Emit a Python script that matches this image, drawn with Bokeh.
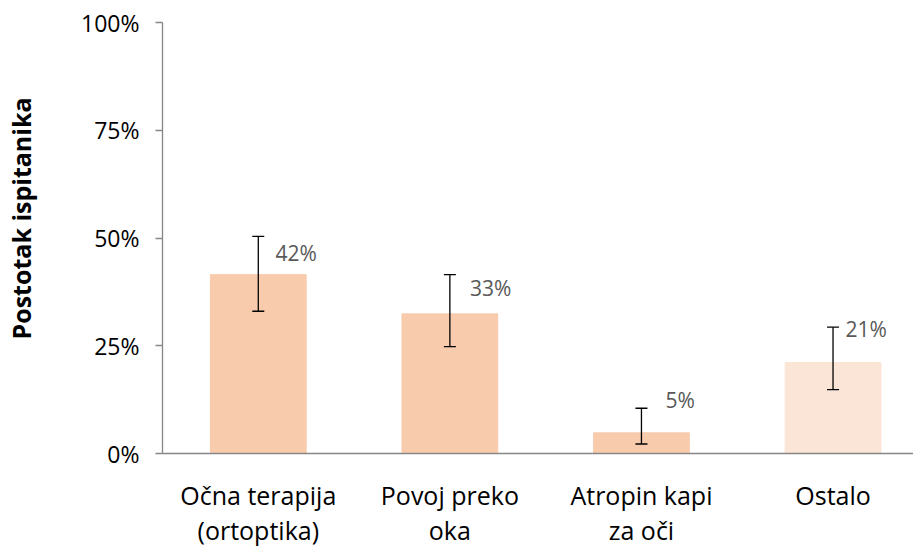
from bokeh.plotting import figure
from bokeh.models import (Range1d, FixedTicker, NumeralTickFormatter, Whisker,
                          ColumnDataSource, TeeHead, LabelSet, LinearAxis)
from bokeh.core.properties import value
from bokeh.embed import file_html
from bokeh.resources import INLINE

categories_line1 = ["Očna terapija", "Povoj preko", "Atropin kapi", "Ostalo"]
categories_line2 = ["(ortoptika)", "oka", "za oči", ""]
values = [0.415, 0.324, 0.048, 0.211]
err_upper = [0.504, 0.415, 0.105, 0.293]
err_lower = [0.330, 0.248, 0.022, 0.148]
value_labels = ["42%", "33%", "5%", "21%"]
label_y = [0.466, 0.383, 0.123, 0.288]
label_dx = [0.09, 0.105, 0.125, 0.065]
bar_colors = ["#F8CBAD", "#F8CBAD", "#F8CBAD", "#FBE5D6"]
y_ticks = [0, 0.25, 0.5, 0.75, 1.0]
y_title = "Postotak ispitanika"

FONT = "Open Sans"

xs = [i + 0.5 for i in range(len(values))]
src = ColumnDataSource(dict(x=xs, top=values, up=err_upper, lo=err_lower,
                            color=bar_colors, lab=value_labels,
                            lx=[x + d for x, d in zip(xs, label_dx)], ly=label_y))

p = figure(width=913, height=549, output_backend="svg", toolbar_location=None,
           x_range=Range1d(0, 3.92), y_range=Range1d(0, 1),
           min_border_left=162, min_border_right=0, min_border_top=22, min_border_bottom=96)
p.outline_line_color = None
p.grid.grid_line_color = None
p.background_fill_color = "white"
p.border_fill_color = "white"

p.vbar(x="x", top="top", width=0.5, color="color", source=src)

w = Whisker(base="x", upper="up", lower="lo", source=src, line_color="black", line_width=1.3,
            level="overlay",
            upper_head=TeeHead(size=12, line_color="black", line_width=1.3),
            lower_head=TeeHead(size=12, line_color="black", line_width=1.3))
p.add_layout(w)

ls = LabelSet(x="lx", y="ly", text="lab", source=src, text_font=value(FONT), text_font_size="21px",
              text_color="#595959", text_align="left", text_baseline="middle", level="overlay")
p.add_layout(ls)

# y axis
p.yaxis.ticker = FixedTicker(ticks=y_ticks)
p.yaxis.formatter = NumeralTickFormatter(format="0%")
p.yaxis.major_label_text_font = FONT
p.yaxis.major_label_text_font_size = "23px"
p.yaxis.major_label_text_color = "black"
p.yaxis.axis_line_color = "#868686"
p.yaxis.axis_line_width = 1.3
p.yaxis.major_tick_line_color = "#868686"
p.yaxis.major_tick_line_width = 1.3
p.yaxis.major_tick_out = 7
p.yaxis.major_tick_in = 0
p.yaxis.minor_tick_line_color = None
p.yaxis.major_label_standoff = 16
# leading no-break spaces lift the centred title up, as in the original
p.yaxis.axis_label = "\u00a0" * 6 + y_title
p.yaxis.axis_label_text_font = FONT
p.yaxis.axis_label_text_font_size = "25px"
p.yaxis.axis_label_text_font_style = "bold"
p.yaxis.axis_label_text_color = "black"
p.yaxis.axis_label_standoff = 40

# x axis, first line of category names
p.xaxis.ticker = FixedTicker(ticks=xs)
p.xaxis.major_label_overrides = {x: c for x, c in zip(xs, categories_line1)}
p.xaxis.major_label_text_font = FONT
p.xaxis.major_label_text_font_size = "25px"
p.xaxis.major_label_text_color = "black"
p.xaxis.axis_line_color = "#868686"
p.xaxis.axis_line_width = 1.5
p.xaxis.major_tick_line_color = None
p.xaxis.minor_tick_line_color = None
p.xaxis.major_label_standoff = 18

# second line of category names
ax2 = LinearAxis(ticker=FixedTicker(ticks=xs),
                 major_label_overrides={x: c for x, c in zip(xs, categories_line2)},
                 major_label_text_font=FONT, major_label_text_font_size="25px",
                 major_label_text_color="black", axis_line_color=None,
                 major_tick_line_color=None, minor_tick_line_color=None,
                 major_label_standoff=-8)
p.add_layout(ax2, "below")

open("out.html", "w").write(file_html(p, INLINE))
